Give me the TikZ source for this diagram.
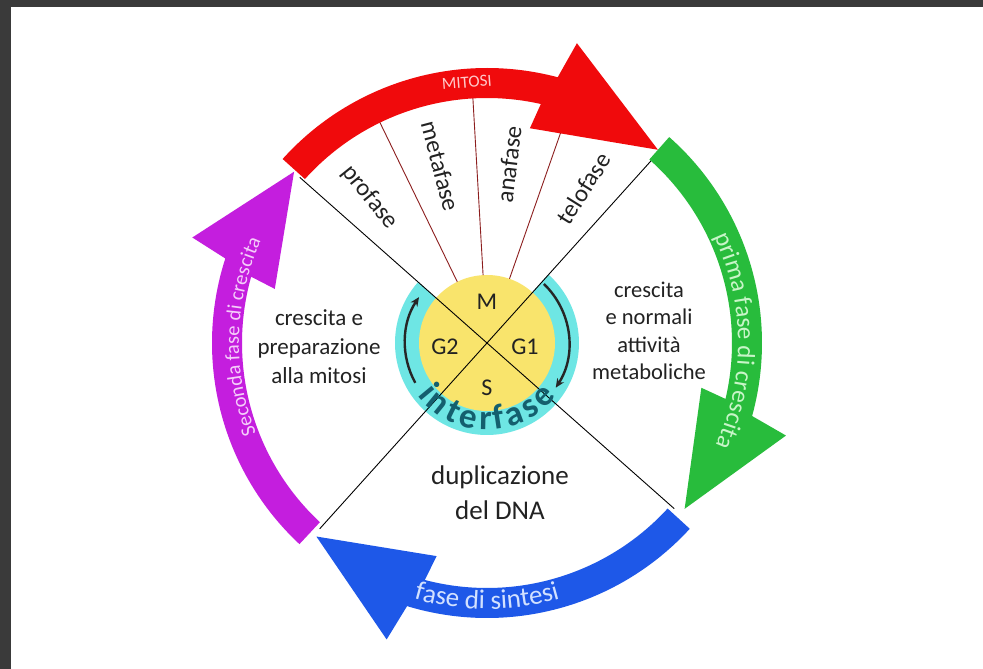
\documentclass[tikz,border=0pt]{standalone}
\usepackage{fontspec}
\setmainfont{Carlito}
\usetikzlibrary{decorations.text,arrows.meta}
\definecolor{frame}{RGB}{58,58,58}
\definecolor{cred}{RGB}{240,10,12}
\definecolor{cgreen}{RGB}{40,188,60}
\definecolor{cblue}{RGB}{30,88,232}
\definecolor{cpurple}{RGB}{196,30,222}
\definecolor{cyanring}{RGB}{110,230,228}
\definecolor{yellowc}{RGB}{249,228,108}
\definecolor{teal}{RGB}{20,95,110}
\definecolor{subline}{RGB}{140,30,30}
\definecolor{txt}{RGB}{34,34,34}
\definecolor{redtxt}{RGB}{255,200,200}
\definecolor{greentxt}{RGB}{200,245,200}
\definecolor{bluetxt}{RGB}{210,225,255}
\definecolor{purpletxt}{RGB}{245,205,250}
\newcommand{\cycarrow}[4]{%
  \fill[#1] (#2:275) arc[start angle=#2, end angle={#3-0.9}, radius=275]
    -- ({#3-2.7}:313) -- (#4:258) -- ({#3+2.7}:219)
    -- ({#3+1.3}:245) arc[start angle={#3+1.3}, end angle=#2, radius=245] -- cycle;}
\begin{document}
\begin{tikzpicture}[x=1pt,y=1pt,
  lbl/.style={text=txt, font=\fontsize{23}{29}\selectfont, align=center},
  phase/.style={text=txt, font=\fontsize{24.5}{29}\selectfont},
  cen/.style={text=txt, font=\fontsize{24}{28}\selectfont},
  interletter/.style={text=teal, font=\bfseries\fontsize{35}{40}\selectfont, anchor=base, inner sep=0pt},
  diag/.style={draw=black, line width=0.9pt},
  sub/.style={draw=subline, line width=0.9pt},
  ringarrow/.style={draw=black!85, line width=2.4pt, -{Stealth[length=9pt,width=8pt]}}]
\useasboundingbox (-487,-326) rectangle (496,343);
\fill[white] (-487,-326) rectangle (496,343);
\fill[frame] (-487,-326) rectangle (-476,343);
\fill[frame] (-487,336) rectangle (496,343);
% interphase ring and centre
\fill[cyanring] (0,0) -- (138.5:92) arc[start angle=138.5, end angle=408, radius=92] -- cycle;
\fill[yellowc] (0,0) circle[radius=68];
% mitosis subdivisions
\foreach \a in {70.7,93.3,115.9}{\draw[sub] (\a:68) -- (\a:248);}
% diagonals
\draw[diag] (138.5:250) -- (-41.5:250);
\draw[diag] (48:250) -- (228:250);
% phase arrows
\cycarrow{cpurple}{227}{163}{138.4}
\cycarrow{cblue}{-42.5}{-106}{-131.4}
\cycarrow{cgreen}{48.5}{-14.5}{-40}
\cycarrow{cred}{138}{76}{48.5}
% texts on arrows
\node[text=redtxt, font=\fontsize{17}{20}\selectfont, rotate=4.4, anchor=base, inner sep=0pt] (mitosi) at (94.4:256) {MITOSI};
\path[decorate, decoration={text along path, text align=center, text color=greentxt,
  text={|\fontsize{25}{30}\selectfont|prima fase di crescita}}]
  (41:251) arc[start angle=41, end angle=-40, radius=251];
\path[decorate, decoration={text along path, text align=center, text color=bluetxt,
  text={|\fontsize{27}{32}\selectfont|fase di sintesi}}]
  (230:266) arc[start angle=230, end angle=310, radius=266];
\path[decorate, decoration={text along path, text align=center, text color=purpletxt,
  text={|\fontsize{20.5}{25}\selectfont|Seconda fase di crescita}}]
  (215:248) arc[start angle=215, end angle=142, radius=248];
% mitosis phases
\node[phase, rotate=-51.2] (profase) at (128.8:187) {profase};
\node[phase, rotate=-75.2] (metafase) at (104.8:183) {metafase};
\node[phase, rotate=83] (anafase) at (83:180) {anafase};
\node[phase, rotate=58] (telofase) at (58:182) {telofase};
% side labels
\node[lbl] (g2txt) at (-168,-4) {crescita e\\preparazione\\alla mitosi};
\node[lbl, font=\fontsize{22.5}{27.5}\selectfont] (g1txt) at (162,12) {crescita\\e normali\\attività\\metaboliche};
\node[lbl, font=\fontsize{27}{35}\selectfont] (stxt) at (13,-150) {duplicazione\\del DNA};
% centre labels
\node[cen] (M) at (0,41) {M};
\node[cen] (G2) at (-42,-4) {G2};
\node[cen] (G1) at (38,-4) {G1};
\node[cen] (S) at (0,-45) {S};
% arrows in the ring
\draw[ringarrow] (209:82) arc[start angle=209, end angle=146, radius=82];
\draw[ringarrow] (46:82) arc[start angle=46, end angle=-33, radius=82];
% interfase lettering
\foreach \ch/\ang [count=\i] in {i/219.6, n/231.0, t/243.9, e/256.3, r/268.9, f/278.7, a/290.5, s/303.5, e/316.7}{
  \node[interletter, rotate=\ang+90] (il\i) at (\ang:87) {\ch};}
\end{tikzpicture}
\end{document}
